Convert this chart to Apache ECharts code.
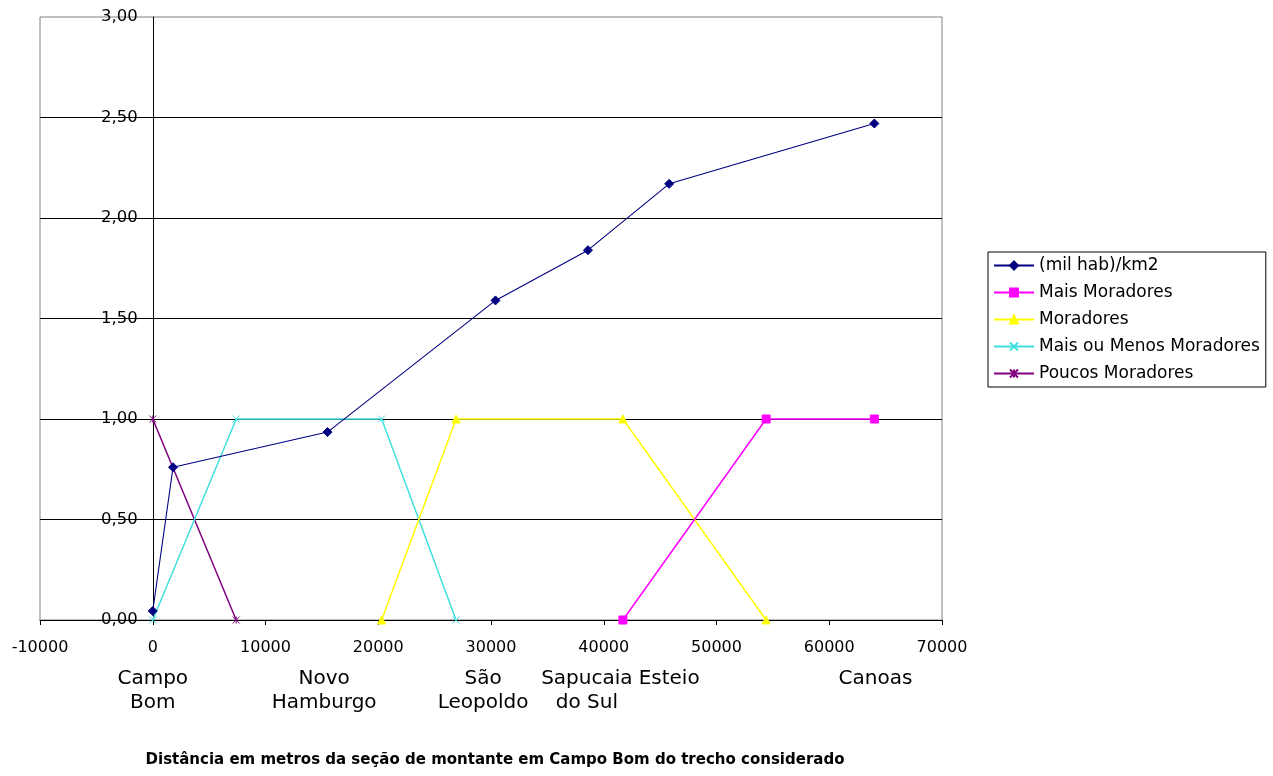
<!DOCTYPE html>
<html>
<head>
<meta charset="utf-8">
<script src="https://cdn.jsdelivr.net/npm/echarts@6/dist/echarts.min.js"></script>
<style>
html,body{margin:0;padding:0;background:#fff;}
#c{width:1273px;height:776px;}
</style>
</head>
<body>
<div id="c"></div>
<script>
// ---- data ----
const seriesNames = ['(mil hab)/km2', 'Mais Moradores', 'Moradores', 'Mais ou Menos Moradores', 'Poucos Moradores'];
const densidade   = [[0, 0.045], [1800, 0.76], [15500, 0.935], [30400, 1.59], [38600, 1.84], [45800, 2.17], [64000, 2.47]];
const maisMoradores = [[41700, 0], [54400, 1], [64000, 1]];
const moradores     = [[20300, 0], [26900, 1], [41700, 1], [54400, 0]];
const maisOuMenos   = [[0, 0], [7400, 1], [20300, 1], [26900, 0]];
const poucos        = [[0, 1], [7400, 0]];
const cityNames = ['Campo\nBom', 'Novo\nHamburgo', 'São\nLeopoldo', 'Sapucaia\ndo Sul', 'Esteio', 'Canoas'];
const cityDist  = [0, 15200, 29300, 38500, 45800, 64100];
const xTitle = 'Distância em metros da seção de montante em Campo Bom do trecho considerado';

const FONT = 'DejaVu Sans';
const colors = ['#000080', '#FF00FF', '#FFFF00', '#40E0E0', '#800080'];
const symbols = [
  'diamond',
  'rect',
  'triangle',
  'path://M0,0L10,10M10,0L0,10',
  'path://M5,0L5,10M0,0L10,10M10,0L0,10'
];
const symbolSizes = [9, 8, 8, 7, 7];
const datasets = [densidade, maisMoradores, moradores, maisOuMenos, poucos];

const chart = echarts.init(document.getElementById('c'), null, {renderer: 'canvas'});

const series = datasets.map((d, i) => ({
  name: seriesNames[i],
  type: 'line',
  data: d,
  symbol: symbols[i],
  symbolSize: symbolSizes[i],
  showAllSymbol: true,
  clip: false,
  lineStyle: {color: colors[i], width: i === 0 ? 1.1 : 1.5},
  itemStyle: {color: colors[i], borderColor: colors[i], borderWidth: 1},
  emphasis: {disabled: true},
  animation: false,
  z: 10 - i
}));

chart.setOption({
  animation: false,
  textStyle: {fontFamily: FONT},
  grid: {left: 40, right: 331, top: 17, bottom: 156, containLabel: false, outerBoundsMode: 'none',
    show: true, borderColor: '#808080', borderWidth: 1, backgroundColor: 'transparent'},
  legend: {
    orient: 'vertical',
    left: 988, top: 252,
    padding: [5, 6, 5, 5],
    itemGap: 10,
    itemWidth: 40, itemHeight: 10,
    borderColor: '#000', borderWidth: 1,
    textStyle: {fontFamily: FONT, fontSize: 17, color: '#000'},
    data: seriesNames
  },
  xAxis: {
    type: 'value',
    min: -10000, max: 70000, interval: 10000,
    name: xTitle,
    nameLocation: 'middle',
    nameGap: 133,
    nameTextStyle: {fontFamily: FONT, fontSize: 15, fontWeight: 'bold', color: '#000', padding: [0, 0, 0, 8]},
    axisLine: {show: true, onZero: true, lineStyle: {color: '#000', width: 1}},
    axisTick: {show: true, length: 5, lineStyle: {color: '#000'}},
    axisLabel: {fontFamily: FONT, fontSize: 16, color: '#000', margin: 20, showMinLabel: true, showMaxLabel: true,
      formatter: v => String(v)},
    splitLine: {show: false}
  },
  yAxis: {
    type: 'value',
    min: 0, max: 3, interval: 0.5,
    axisLine: {show: true, onZero: false, lineStyle: {color: '#000', width: 1}},
    axisTick: {show: false},
    axisLabel: {fontFamily: FONT, fontSize: 16.5, color: '#000', margin: 15,
      formatter: v => v.toFixed(2).replace('.', ',')},
    splitLine: {show: true, showMaxLine: false, lineStyle: {color: '#000', width: 1}}
  },
  series: series
});

// place the y axis (line + labels) at x = 0, as in the reference
const gridLeftPx = chart.convertToPixel({xAxisIndex: 0}, -10000);
const zeroPx = chart.convertToPixel({xAxisIndex: 0}, 0);
chart.setOption({yAxis: {offset: -(zeroPx - gridLeftPx)}});

const cityGraphics = cityNames.map((n, i) => {
  const px = chart.convertToPixel({xAxisIndex: 0}, cityDist[i]);
  return {
    type: 'text',
    x: px, y: 667,
    silent: true,
    style: {
      text: n,
      x: 0, y: 0,
      align: 'center',
      verticalAlign: 'top',
      fontFamily: FONT,
      fontSize: 20,
      lineHeight: 24,
      fill: '#000'
    }
  };
});
chart.setOption({graphic: cityGraphics});
</script>
</body>
</html>
